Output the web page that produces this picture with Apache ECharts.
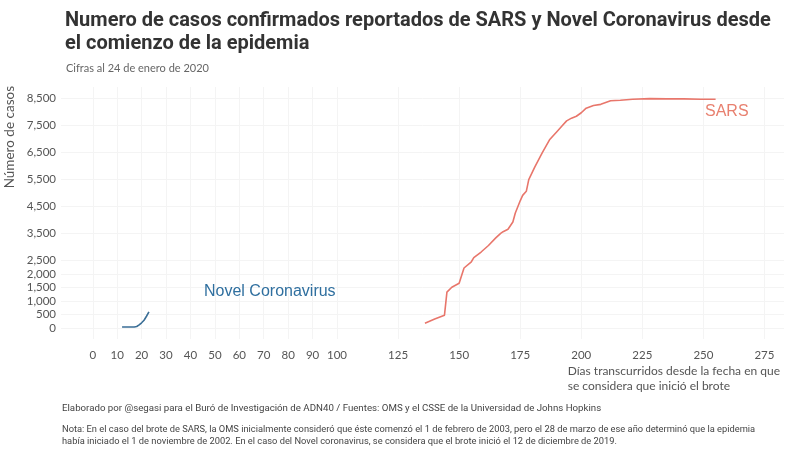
<!DOCTYPE html>
<html>
<head>
<meta charset="utf-8">
<script src="https://cdn.jsdelivr.net/npm/echarts@6/dist/echarts.min.js"></script>
<style>
  html, body { margin: 0; padding: 0; background: #fff; }
  #main { width: 800px; height: 450px; }
</style>
</head>
<body>
<div id="main"></div>
<script>
// datos
var ncovDays = [12, 13, 14, 15, 16, 17, 18, 19, 20, 21, 22, 23]
var ncovCases = [41, 41, 41, 41, 41, 45, 62, 121, 198, 291, 440, 600]

var sarsDays = [136, 140, 144, 145, 147, 150, 152, 155, 156, 159, 162, 165, 167, 168, 170, 172, 173, 175, 176, 177.5, 178.5, 181, 184, 187, 190, 192, 194, 196, 198, 200, 202, 205, 208, 212, 216, 221, 228, 235, 242, 249, 255]
var sarsCases = [185, 340, 480, 1330, 1510, 1660, 2220, 2450, 2600, 2810, 3050, 3330, 3500, 3560, 3650, 3920, 4250, 4700, 4900, 5050, 5480, 5950, 6470, 6950, 7250, 7450, 7650, 7750, 7820, 7950, 8120, 8220, 8260, 8390, 8410, 8450, 8470, 8460, 8460, 8450, 8450]

var xTicks = [0, 10, 20, 30, 40, 50, 60, 70, 80, 90, 100, 125, 150, 175, 200, 225, 250, 275]
var yTicks = [0, 500, 1000, 1500, 2000, 2500, 3500, 4500, 5500, 6500, 7500, 8500]

function pairs(xs, ys) {
  return xs.map(function (x, i) { return [x, ys[i]] })
}

var chart = echarts.init(document.getElementById("main"))
var gray = "#555"

var option = {
  backgroundColor: "#fff",
  animation: false,
  title: [
    {
      text: "Numero de casos confirmados reportados de SARS y Novel Coronavirus desde\nel comienzo de la epidemia",
      left: 60,
      top: 4,
      textStyle: { fontFamily: "Roboto", fontWeight: "bold", fontSize: 20, color: "#333", lineHeight: 23 }
    },
    {
      text: "Cifras al 24 de enero de 2020",
      left: 61,
      top: 58,
      textStyle: { fontFamily: "Lato", fontWeight: "normal", fontSize: 11, color: "#666" }
    }
  ],
  grid: { left: 61, right: 16, top: 87, bottom: 111 },
  xAxis: {
    type: "value",
    min: -13,
    max: 283,
    axisLine: { show: false },
    axisTick: { show: false, customValues: xTicks },
    axisLabel: {
      customValues: xTicks,
      color: gray,
      fontFamily: "Lato",
      fontSize: 11.5,
      margin: 10
    },
    splitLine: { show: true, lineStyle: { color: "#f4f4f4", width: 1 } }
  },
  yAxis: {
    type: "value",
    min: -400,
    max: 8900,
    axisLine: { show: false },
    axisTick: { show: false, customValues: yTicks },
    axisLabel: {
      customValues: yTicks,
      color: gray,
      fontFamily: "Lato",
      fontSize: 11.5,
      margin: 5,
      formatter: function (v) { return v.toLocaleString("en-US") }
    },
    splitLine: { show: true, lineStyle: { color: "#f4f4f4", width: 1 } }
  },
  graphic: [
    {
      type: "text",
      left: 3,
      top: 86,
      rotation: Math.PI / 2,
      style: { text: "Número de casos", fill: gray, font: "13.5px Lato" },
      z: 100
    },
    {
      type: "text",
      right: 20,
      top: 364,
      style: {
        text: "Días transcurridos desde la fecha en que\nse considera que inició el brote",
        fill: gray, font: "12px Lato", align: "right", lineHeight: 15
      },
      z: 100
    },
    {
      type: "text",
      left: 705,
      top: 104,
      style: { text: "SARS", fill: "#e8806f", font: "16px 'Liberation Sans'" },
      z: 100
    },
    {
      type: "text",
      left: 204,
      top: 284,
      style: { text: "Novel Coronavirus", fill: "#2f6f9f", font: "16px 'Liberation Sans'" },
      z: 100
    },
    {
      type: "text",
      left: 62,
      top: 404,
      style: {
        text: "Elaborado por @segasi para el Buró de Investigación de ADN40 / Fuentes: OMS y el CSSE de la Universidad de Johns Hopkins",
        fill: "#444", font: "9.7px Roboto"
      },
      z: 100
    },
    {
      type: "text",
      left: 62,
      top: 424,
      style: {
        text: "Nota: En el caso del brote de SARS, la OMS inicialmente consideró que éste comenzó el 1 de febrero de 2003, pero el 28 de marzo de ese año determinó que la epidemia\nhabía iniciado el 1 de noviembre de 2002. En el caso del Novel coronavirus, se considera que el brote inició el 12 de diciembre de 2019.",
        fill: "#444", font: "9.3px Roboto", lineHeight: 12
      },
      z: 100
    }
  ],
  series: [
    {
      name: "Novel Coronavirus",
      type: "line",
      data: pairs(ncovDays, ncovCases),
      showSymbol: false,
      lineStyle: { color: "#3a6e96", width: 1.6 },
      itemStyle: { color: "#3a6e96" }
    },
    {
      name: "SARS",
      type: "line",
      data: pairs(sarsDays, sarsCases),
      showSymbol: false,
      lineStyle: { color: "#e8766b", width: 1.6 },
      itemStyle: { color: "#e8766b" }
    }
  ]
}

chart.setOption(option)
window.addEventListener("resize", function () {
  chart.resize()
})
</script>
</body>
</html>
